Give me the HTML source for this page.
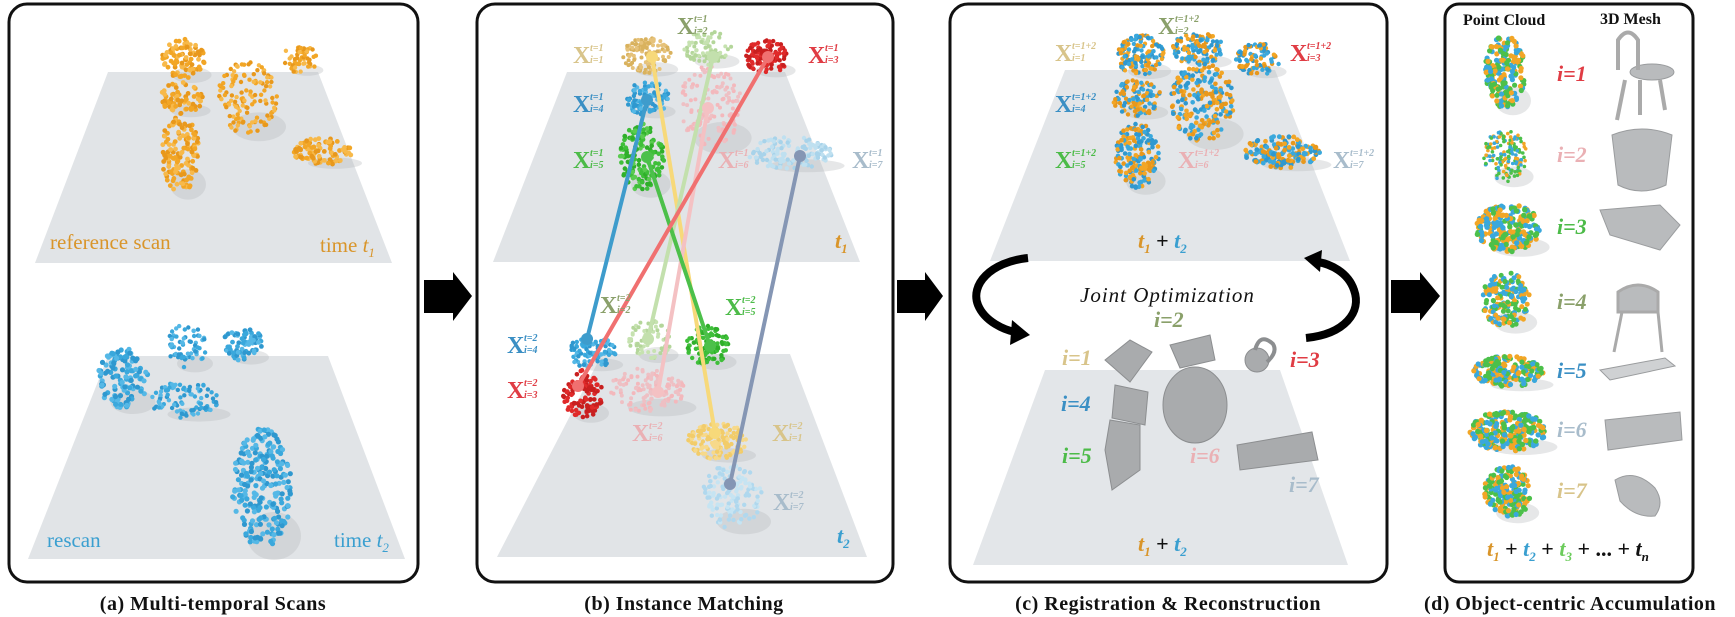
<!DOCTYPE html>
<html><head><meta charset="utf-8"><style>
html,body{margin:0;padding:0;background:#fff;}
svg{display:block;}
.cap{font-family:"Liberation Serif",serif;font-weight:bold;font-size:20px;fill:#111;}
.X{font-family:"Liberation Serif",serif;font-weight:bold;font-size:24px;}
.s{font-family:"Liberation Serif",serif;font-weight:bold;font-style:italic;font-size:10px;}
.lab{font-family:"Liberation Serif",serif;font-size:21px;}
.it{font-family:"Liberation Serif",serif;font-style:italic;font-weight:bold;font-size:22px;}
.hd{font-family:"Liberation Serif",serif;font-weight:bold;font-size:16px;fill:#111;}
</style></head><body>
<svg id="s" width="1735" height="617" viewBox="0 0 1735 617" xmlns="http://www.w3.org/2000/svg">
<rect x="9" y="4" width="409" height="578" rx="18" fill="#fff" stroke="#111" stroke-width="3"/>
<rect x="477" y="4" width="416" height="578" rx="18" fill="#fff" stroke="#111" stroke-width="3"/>
<rect x="950" y="4" width="437" height="578" rx="18" fill="#fff" stroke="#111" stroke-width="3"/>
<rect x="1445" y="4" width="248" height="578" rx="14" fill="#fff" stroke="#111" stroke-width="3"/>
<polygon points="108,72 318,72 392,263 35,263" fill="#e1e4e7"/>
<polygon points="108,356 328,356 405,559 28,559" fill="#e1e4e7"/>
<polygon points="567,72 785,72 860,262 493,262" fill="#e1e4e7"/>
<polygon points="602,354 790,354 867,557 497,557" fill="#e1e4e7"/>
<polygon points="1065,70 1275,70 1350,261 990,261" fill="#e3e6e9"/>
<polygon points="1045,370 1280,370 1348,565 973,565" fill="#e3e6e9"/>
<polygon points="424,280 453,280 453,272 472,296 453,321 453,313 424,313" fill="#000"/>
<polygon points="897,280 925,280 925,272 943,296 925,321 925,313 897,313" fill="#000"/>
<polygon points="1391,280 1420,280 1420,272 1440,296 1420,321 1420,313 1391,313" fill="#000"/>
<g id="dots"></g>
<g fill="#a9abad" stroke="#8c8e90" stroke-width="1">
<polygon points="1105,360 1130,340 1152,352 1130,382" />
<polygon points="1170,345 1210,335 1215,360 1180,368"/>
<ellipse cx="1195" cy="405" rx="32" ry="38"/>
<circle cx="1257" cy="360" r="12"/>
<path d="M1255,350 q5,-18 18,-6 q5,8 -6,18" fill="none" stroke-width="4"/>
<polygon points="1115,385 1148,392 1145,425 1112,418"/>
<polygon points="1110,420 1140,425 1140,470 1112,490 1105,450"/>
<polygon points="1237,445 1312,432 1318,460 1240,470"/>
</g>
<g fill="#b9bbbd" stroke="#9a9c9e" stroke-width="1">
<ellipse cx="1652" cy="72" rx="22" ry="8"/>
<path d="M1618,70 l0,-30 q10,-15 20,0 l0,30 M1625,80 l-8,40 M1660,80 l5,30 M1640,80 l0,35" fill="none" stroke="#aaa" stroke-width="4"/>
<path d="M1612,135 q30,-12 60,0 l-6,50 q-25,12 -48,0 z"/>
<polygon points="1600,210 1660,205 1680,225 1660,250 1610,235"/>
<path d="M1618,292 q20,-14 40,0 l0,20 l-40,0 z M1622,312 l-8,40 M1658,312 l4,40" stroke="#aaa" stroke-width="3"/>
<polygon points="1600,370 1665,358 1675,366 1610,380" fill="#cfd1d3"/>
<polygon points="1605,420 1680,412 1682,440 1608,450"/>
<path d="M1615,480 q20,-12 40,8 q10,15 0,28 q-20,2 -35,-15 z"/>
</g>
<g stroke-width="4" stroke-linecap="round">
<line x1="652" y1="57" x2="715" y2="433" stroke="#f7d97a"/>
<line x1="713" y1="57" x2="648" y2="339" stroke="#c3e0ad"/>
<line x1="708" y1="108" x2="658" y2="392" stroke="#f4c1c3"/>
<line x1="647" y1="100" x2="587" y2="339" stroke="#3e9ccc"/>
<line x1="647" y1="157" x2="710" y2="346" stroke="#4cc04a"/>
<line x1="768" y1="57" x2="578" y2="386" stroke="#f07070"/>
<line x1="800" y1="156" x2="730" y2="484" stroke="#8596b4"/>
</g>
<g>
<circle cx="652" cy="57" r="6" fill="#f7d97a"/><circle cx="715" cy="433" r="6" fill="#f7d97a"/>
<circle cx="713" cy="57" r="6" fill="#c3e0ad"/><circle cx="648" cy="339" r="6" fill="#c3e0ad"/>
<circle cx="708" cy="108" r="6" fill="#f4c1c3"/><circle cx="658" cy="392" r="6" fill="#f4c1c3"/>
<circle cx="647" cy="100" r="6" fill="#3e9ccc"/><circle cx="587" cy="339" r="6" fill="#3e9ccc"/>
<circle cx="647" cy="157" r="6" fill="#4cc04a"/><circle cx="710" cy="346" r="6" fill="#4cc04a"/>
<circle cx="768" cy="57" r="6" fill="#f07070"/><circle cx="578" cy="386" r="6" fill="#f07070"/>
<circle cx="800" cy="156" r="6" fill="#8596b4"/><circle cx="730" cy="484" r="6" fill="#8596b4"/>
</g>
<text class="lab" x="50" y="249" fill="#d9952a">reference scan</text>
<text class="lab" x="320" y="252" fill="#d9952a">time <tspan font-style="italic">t</tspan><tspan font-style="italic" font-size="13" dy="5">1</tspan></text>
<text class="lab" x="47" y="547" fill="#3a9fd0">rescan</text>
<text class="lab" x="334" y="547" fill="#3a9fd0">time <tspan font-style="italic">t</tspan><tspan font-style="italic" font-size="13" dy="5">2</tspan></text>
<text class="it" x="835" y="248" fill="#d9952a">t<tspan font-size="13" dy="5">1</tspan></text>
<text class="it" x="837" y="543" fill="#3a9fd0">t<tspan font-size="13" dy="5">2</tspan></text>
<text class="it" x="1138" y="248" fill="#d9952a">t<tspan font-size="13" dy="5">1</tspan><tspan fill="#111" font-style="normal" font-size="22" dy="-5"> + </tspan><tspan fill="#3a9fd0">t</tspan><tspan fill="#3a9fd0" font-size="13" dy="5">2</tspan></text>
<text class="it" x="1138" y="551" fill="#d9952a">t<tspan font-size="13" dy="5">1</tspan><tspan fill="#111" font-style="normal" font-size="22" dy="-5"> + </tspan><tspan fill="#3a9fd0">t</tspan><tspan fill="#3a9fd0" font-size="13" dy="5">2</tspan></text>
<text x="1080" y="302" font-family="Liberation Serif,serif" font-style="italic" font-size="21" fill="#111" letter-spacing="1">Joint Optimization</text>
<text class="it" x="1154" y="327" fill="#8aa06a" font-size="17">i=2</text>
<text class="it" x="1062" y="365" fill="#d8c48a" font-size="17">i=1</text>
<text class="it" x="1290" y="367" fill="#e03c44" font-size="17">i=3</text>
<text class="it" x="1061" y="411" fill="#3a8fc4" font-size="17">i=4</text>
<text class="it" x="1062" y="463" fill="#4cbb48" font-size="17">i=5</text>
<text class="it" x="1190" y="463" fill="#eab0b4" font-size="17">i=6</text>
<text class="it" x="1289" y="492" fill="#a8bccb" font-size="17">i=7</text>
<path d="M1028,258 C990,262 970,285 978,305 C985,322 1005,330 1015,332" fill="none" stroke="#000" stroke-width="8"/>
<polygon points="1012,320 1030,335 1010,345" fill="#000"/>
<path d="M1306,338 C1345,334 1362,312 1354,290 C1348,272 1330,264 1318,262" fill="none" stroke="#000" stroke-width="8"/>
<polygon points="1322,250 1304,258 1320,272" fill="#000"/>
<text class="hd" x="1463" y="25">Point Cloud</text>
<text class="hd" x="1600" y="24">3D Mesh</text>
<text class="it" x="1557" y="81" font-size="17" fill="#e03c44">i=1</text>
<text class="it" x="1557" y="162" font-size="17" fill="#eab0b4">i=2</text>
<text class="it" x="1557" y="234" font-size="17" fill="#4cbb48">i=3</text>
<text class="it" x="1557" y="309" font-size="17" fill="#8aa06a">i=4</text>
<text class="it" x="1557" y="378" font-size="17" fill="#3a8fc4">i=5</text>
<text class="it" x="1557" y="437" font-size="17" fill="#a8bccb">i=6</text>
<text class="it" x="1557" y="498" font-size="17" fill="#d8c48a">i=7</text>
<text class="it" x="1487" y="556" font-size="22"><tspan fill="#d9952a">t</tspan><tspan fill="#d9952a" font-size="13" dy="5">1</tspan><tspan fill="#111" font-style="normal" dy="-5"> + </tspan><tspan fill="#3a9fd0">t</tspan><tspan fill="#3a9fd0" font-size="13" dy="5">2</tspan><tspan fill="#111" font-style="normal" dy="-5"> + </tspan><tspan fill="#6ccc5c">t</tspan><tspan fill="#6ccc5c" font-size="13" dy="5">3</tspan><tspan fill="#111" font-style="normal" dy="-5"> + ... + </tspan><tspan fill="#111">t</tspan><tspan fill="#111" font-size="13" dy="5">n</tspan></text>
<text class="cap" x="213" y="610" text-anchor="middle" letter-spacing="0.5">(a) Multi-temporal Scans</text>
<text class="cap" x="684" y="610" text-anchor="middle" letter-spacing="0.5">(b) Instance Matching</text>
<text class="cap" x="1168" y="610" text-anchor="middle" letter-spacing="0.5">(c) Registration &amp; Reconstruction</text>
<text class="cap" x="1570" y="610" text-anchor="middle" letter-spacing="0.5">(d) Object-centric Accumulation</text>
<g>
<text class="X" x="573" y="63" fill="#d8c48a">X</text><text class="s" x="590" y="51" fill="#d8c48a">t=1</text><text class="s" x="590" y="63" fill="#d8c48a">i=1</text>
<text class="X" x="677" y="34" fill="#8aa06a">X</text><text class="s" x="694" y="22" fill="#8aa06a">t=1</text><text class="s" x="694" y="34" fill="#8aa06a">i=2</text>
<text class="X" x="808" y="63" fill="#e03c44">X</text><text class="s" x="825" y="51" fill="#e03c44">t=1</text><text class="s" x="825" y="63" fill="#e03c44">i=3</text>
<text class="X" x="573" y="112" fill="#3a8fc4">X</text><text class="s" x="590" y="100" fill="#3a8fc4">t=1</text><text class="s" x="590" y="112" fill="#3a8fc4">i=4</text>
<text class="X" x="573" y="168" fill="#4cbb48">X</text><text class="s" x="590" y="156" fill="#4cbb48">t=1</text><text class="s" x="590" y="168" fill="#4cbb48">i=5</text>
<text class="X" x="718" y="168" fill="#eab0b4">X</text><text class="s" x="735" y="156" fill="#eab0b4">t=1</text><text class="s" x="735" y="168" fill="#eab0b4">i=6</text>
<text class="X" x="852" y="168" fill="#a8bccb">X</text><text class="s" x="869" y="156" fill="#a8bccb">t=1</text><text class="s" x="869" y="168" fill="#a8bccb">i=7</text>
<text class="X" x="600" y="313" fill="#8aa06a">X</text><text class="s" x="617" y="301" fill="#8aa06a">t=2</text><text class="s" x="617" y="313" fill="#8aa06a">i=2</text>
<text class="X" x="725" y="315" fill="#4cbb48">X</text><text class="s" x="742" y="303" fill="#4cbb48">t=2</text><text class="s" x="742" y="315" fill="#4cbb48">i=5</text>
<text class="X" x="507" y="353" fill="#3a8fc4">X</text><text class="s" x="524" y="341" fill="#3a8fc4">t=2</text><text class="s" x="524" y="353" fill="#3a8fc4">i=4</text>
<text class="X" x="507" y="398" fill="#e03c44">X</text><text class="s" x="524" y="386" fill="#e03c44">t=2</text><text class="s" x="524" y="398" fill="#e03c44">i=3</text>
<text class="X" x="632" y="441" fill="#eab0b4">X</text><text class="s" x="649" y="429" fill="#eab0b4">t=2</text><text class="s" x="649" y="441" fill="#eab0b4">i=6</text>
<text class="X" x="772" y="441" fill="#d8c48a">X</text><text class="s" x="789" y="429" fill="#d8c48a">t=2</text><text class="s" x="789" y="441" fill="#d8c48a">i=1</text>
<text class="X" x="773" y="510" fill="#a8bccb">X</text><text class="s" x="790" y="498" fill="#a8bccb">t=2</text><text class="s" x="790" y="510" fill="#a8bccb">i=7</text>
</g>
<g>
<text class="X" x="1055" y="61" fill="#d8c48a">X</text><text class="s" x="1072" y="49" fill="#d8c48a">t=1+2</text><text class="s" x="1072" y="61" fill="#d8c48a">i=1</text>
<text class="X" x="1158" y="34" fill="#8aa06a">X</text><text class="s" x="1175" y="22" fill="#8aa06a">t=1+2</text><text class="s" x="1175" y="34" fill="#8aa06a">i=2</text>
<text class="X" x="1290" y="61" fill="#e03c44">X</text><text class="s" x="1307" y="49" fill="#e03c44">t=1+2</text><text class="s" x="1307" y="61" fill="#e03c44">i=3</text>
<text class="X" x="1055" y="112" fill="#3a8fc4">X</text><text class="s" x="1072" y="100" fill="#3a8fc4">t=1+2</text><text class="s" x="1072" y="112" fill="#3a8fc4">i=4</text>
<text class="X" x="1055" y="168" fill="#4cbb48">X</text><text class="s" x="1072" y="156" fill="#4cbb48">t=1+2</text><text class="s" x="1072" y="168" fill="#4cbb48">i=5</text>
<text class="X" x="1178" y="168" fill="#eab0b4">X</text><text class="s" x="1195" y="156" fill="#eab0b4">t=1+2</text><text class="s" x="1195" y="168" fill="#eab0b4">i=6</text>
<text class="X" x="1333" y="168" fill="#a8bccb">X</text><text class="s" x="1350" y="156" fill="#a8bccb">t=1+2</text><text class="s" x="1350" y="168" fill="#a8bccb">i=7</text>
</g>
</svg>
<script>
(function(){
var seed=12345;function r(){seed=(seed*16807)%2147483647;return (seed-1)/2147483646;}
var g=document.getElementById('dots'),h='';
function blob(cx,cy,rx,ry,n,cols,rad){
 h+='<ellipse cx="'+(cx+rx*0.4)+'" cy="'+(cy+ry*0.8)+'" rx="'+(rx*0.9)+'" ry="'+(ry*0.4)+'" fill="#b8babd" opacity="0.35"/>';
 for(var k=0;k<n;k++){var a=r()*6.283,d=Math.sqrt(r());
  var x=cx+Math.cos(a)*d*rx,y=cy+Math.sin(a)*d*ry;
  h+='<circle cx="'+x.toFixed(1)+'" cy="'+y.toFixed(1)+'" r="'+rad+'" fill="'+cols[Math.floor(r()*cols.length)]+'"/>';}
}
var O=['#f2a626','#e8981c','#f7b94a'],B=['#3aa8dc','#2f98cf','#55b8e6'];
blob(183,59,22,20,90,O,2.4);blob(182,98,22,16,70,O,2.4);blob(180,154,20,38,140,O,2.4);
blob(247,98,30,36,130,O,2.2);blob(300,59,18,14,50,O,2.2);blob(323,152,30,14,90,O,2.4);
blob(123,378,25,30,120,B,2.6);blob(187,346,20,22,60,B,2.2);blob(243,343,20,18,70,B,2.4);
blob(185,400,35,18,90,B,2.2);blob(262,488,30,60,240,B,2.6);
blob(647,55,24,18,110,['#e6c27a','#d9b25e'],2);blob(707,47,25,18,80,['#c6e2b0','#b4d69a'],2);
blob(767,57,22,17,110,['#e02a2a','#c81f1f'],2.2);blob(710,106,32,40,130,['#f3b8bc','#eec0c4'],2);
blob(647,98,22,17,90,B,2.2);blob(642,157,22,34,160,['#3fbf3a','#2faf2a','#5acb50'],2.3);
blob(790,153,42,16,130,['#bfe0f0','#a8d3ea'],2.2);
blob(592,352,24,16,100,B,2.2);blob(583,394,20,24,110,['#e02a2a','#c81f1f'],2.3);
blob(650,339,22,20,70,['#c6e2b0','#b4d69a'],2);blob(708,346,22,20,110,['#3fbf3a','#2faf2a'],2.2);
blob(647,390,38,22,120,['#f3b8bc','#eec0c4'],2);blob(717,441,30,18,130,['#f7d98a','#f2cc6a'],2.2);
blob(732,496,30,32,140,['#c6e4f2','#b0d8ee'],2.2);
var M=['#f2a626','#3aa8dc','#e8981c','#2f98cf'];
blob(1140,55,24,20,150,M,2.2);blob(1198,49,26,16,120,M,2.2);blob(1258,59,22,16,90,M,2.2);
blob(1137,98,24,18,110,M,2.2);blob(1202,102,32,40,220,M,2.3);blob(1137,154,22,34,170,M,2.3);
blob(1282,152,38,16,160,M,2.4);
var T=['#f2a626','#3aa8dc','#4cc04a'];
blob(1505,72,20,36,200,T,2.6);blob(1505,156,22,26,150,T,1.8);blob(1508,228,32,24,220,T,2.7);
blob(1506,300,24,28,170,T,2.5);blob(1508,372,35,16,180,T,2.6);blob(1508,431,38,20,230,T,2.7);
blob(1508,492,24,26,190,T,2.6);
g.innerHTML=h;
})();
</script>
</body></html>
